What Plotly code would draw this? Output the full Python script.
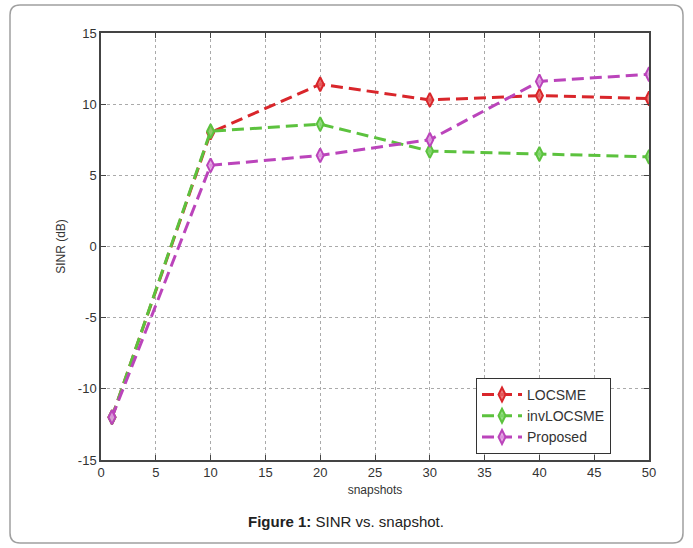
import plotly.graph_objects as go

snapshots = [1, 10, 20, 30, 40, 50]
locsme = [-12.0, 8.0, 11.4, 10.3, 10.6, 10.4]
invlocsme = [-12.0, 8.1, 8.6, 6.7, 6.5, 6.3]
proposed = [-12.0, 5.7, 6.4, 7.5, 11.6, 12.1]
x_ticks = [0, 5, 10, 15, 20, 25, 30, 35, 40, 45, 50]
y_ticks = [-15, -10, -5, 0, 5, 10, 15]
y_labels = ["-15", "-10", "-5", "0", "5", "10", "15"]

series = [
    ("LOCSME", locsme, "#d9262b", "rgba(230,100,100,0.85)"),
    ("invLOCSME", invlocsme, "#5cc23e", "rgba(130,215,110,0.85)"),
    ("Proposed", proposed, "#bb44bb", "rgba(225,160,225,0.85)"),
]

fig = go.Figure()
for name, vals, col, fill in series:
    fig.add_trace(go.Scatter(
        x=snapshots, y=vals, name=name, mode="lines+markers",
        line=dict(color=col, width=3, dash="12px,6px"),
        marker=dict(symbol="diamond-tall", size=10, color=fill,
                    line=dict(color=col, width=2)),
    ))

W, H = 693, 548
L, R, T, B = 101, 44, 33, 88
pw, ph = W - L - R, H - T - B

def px(x):
    return (x - L) / pw

def py(y):
    return (H - B - y) / ph

x0, x1, y0, y1 = px(10), px(683), py(5), py(543)
rx, ry = 10 / pw, 10 / ph
path = (f"M {x0+rx},{y0} L {x1-rx},{y0} Q {x1},{y0} {x1},{y0-ry} "
        f"L {x1},{y1+ry} Q {x1},{y1} {x1-rx},{y1} "
        f"L {x0+rx},{y1} Q {x0},{y1} {x0},{y1+ry} "
        f"L {x0},{y0-ry} Q {x0},{y0} {x0+rx},{y0} Z")

axis_common = dict(
    showgrid=True, gridcolor="#aaaaaa", griddash="dot", gridwidth=1,
    showline=True, linecolor="#444444", linewidth=1.5, mirror="ticks",
    ticks="inside", ticklen=5, tickcolor="#444444",
    tickfont=dict(family="Liberation Sans, Arial", size=13, color="#333333"),
    zeroline=False,
)

fig.update_layout(
    width=W, height=H,
    margin=dict(l=L, r=R, t=T, b=B),
    paper_bgcolor="white", plot_bgcolor="white",
    font=dict(family="Liberation Sans, Arial", color="#333333"),
    xaxis=dict(range=[0, 50], tickvals=x_ticks,
               title=dict(text="snapshots", font=dict(size=12), standoff=6),
               **axis_common),
    yaxis=dict(range=[-15, 15], tickvals=y_ticks, ticktext=y_labels,
               title=dict(text="SINR (dB)", font=dict(size=12), standoff=10),
               **axis_common),
    legend=dict(x=px(476), y=py(378), xanchor="left", yanchor="top",
                bgcolor="white", bordercolor="#333333", borderwidth=1,
                font=dict(size=14, color="#333333"),
                itemwidth=40, tracegroupgap=0),
    showlegend=True,
    shapes=[dict(type="path", xref="paper", yref="paper", path=path,
                 line=dict(color="#a0a0a0", width=1.5), layer="below")],
    annotations=[dict(xref="paper", yref="paper", x=px(346), y=py(521),
                      xanchor="center", yanchor="middle", showarrow=False,
                      text="<b>Figure 1:</b> SINR vs. snapshot.",
                      font=dict(size=15, color="#222222",
                                family="Liberation Sans, Arial"))],
)

fig.write_html("out.html")
